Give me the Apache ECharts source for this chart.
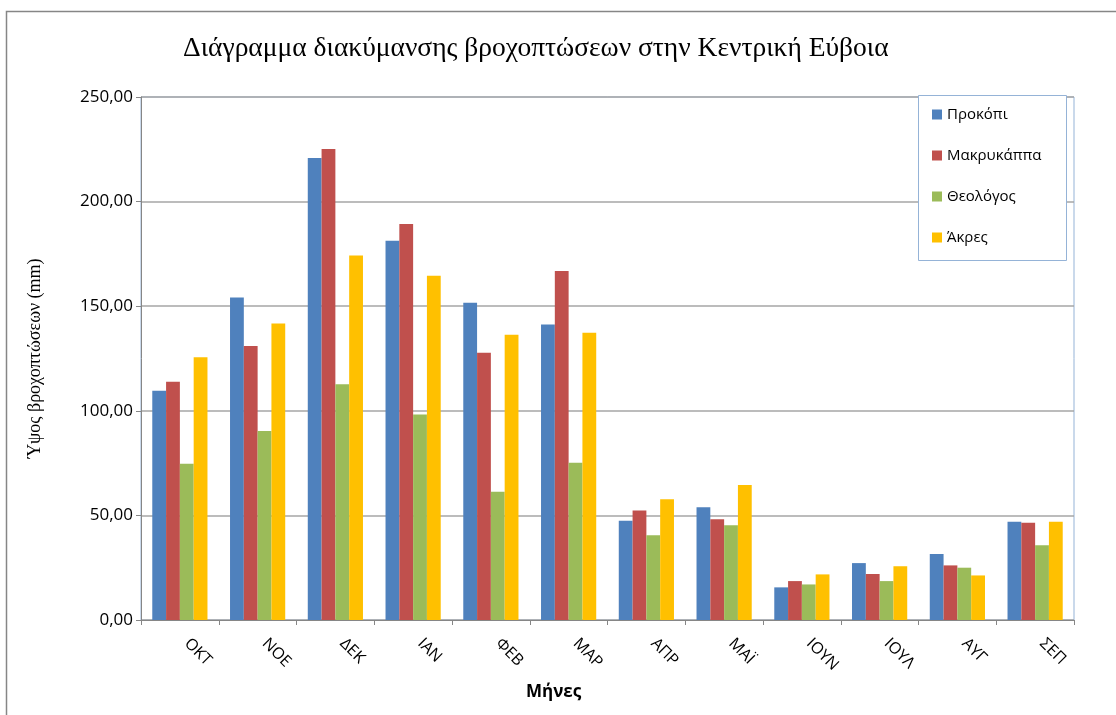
<!DOCTYPE html>
<html lang="el">
<head>
    <meta charset="UTF-8">
    <title>Βροχοπτώσεις Κεντρική Εύβοια</title>
    <script type="text/javascript" src="https://cdn.jsdelivr.net/npm/echarts@6/dist/echarts.min.js"></script>
    <style>
        html, body { margin: 0; padding: 0; background: #ffffff; }
    </style>
</head>
<body>
<div id="main" style="width: 1116px;height:715px;"></div>

<script type="text/javascript">
    // μήνες (υδρολογικό έτος)
    var months = ['ΟΚΤ', 'ΝΟΕ', 'ΔΕΚ', 'ΙΑΝ', 'ΦΕΒ', 'ΜΑΡ', 'ΑΠΡ', 'ΜΑΪ', 'ΙΟΥΝ', 'ΙΟΥΛ', 'ΑΥΓ', 'ΣΕΠ'];
    var stations = ['Προκόπι', 'Μακρυκάππα', 'Θεολόγος', 'Άκρες'];
    var prokopi     = [109.6, 154.1, 220.8, 181.3, 151.7, 141.2, 47.5, 53.9, 15.6, 27.2, 31.5, 47.0];
    var makrykappa  = [113.9, 131.0, 225.1, 189.3, 127.8, 166.8, 52.3, 48.1, 18.6, 22.0, 26.1, 46.5];
    var theologos   = [74.7, 90.3, 112.7, 98.2, 61.3, 75.2, 40.5, 45.3, 17.0, 18.6, 25.0, 35.7];
    var akres       = [125.6, 141.7, 174.2, 164.6, 136.4, 137.3, 57.7, 64.5, 21.8, 25.7, 21.3, 47.0];
    var colors = ['#4f81bd', '#c0504d', '#9bbb59', '#ffc000'];

    var myChart = echarts.init(document.getElementById('main'));

    var seriesData = [prokopi, makrykappa, theologos, akres];
    var series = [];
    for (var i = 0; i < stations.length; i++) {
        series.push({
            name: stations[i],
            type: 'bar',
            data: seriesData[i],
            barGap: '0%',
            barCategoryGap: '29%',
            itemStyle: { color: colors[i] }
        });
    }

    var option = {
        animation: false,
        color: colors,
        title: {
            text: 'Διάγραμμα διακύμανσης βροχοπτώσεων στην Κεντρική Εύβοια',
            left: 178,
            top: 30,
            textStyle: {
                fontFamily: 'Liberation Serif',
                fontWeight: 'normal',
                fontSize: 27.5,
                color: '#000'
            }
        },
        legend: {
            orient: 'vertical',
            left: 918,
            top: 95,
            z: 10,
            padding: [12, 14, 15, 14],
            itemGap: 26,
            itemWidth: 10,
            itemHeight: 10,
            icon: 'rect',
            textStyle: { fontFamily: 'Open Sans', fontSize: 15, color: '#000' },
            data: stations
        },
        grid: {
            left: 141,
            right: 42,
            top: 97,
            bottom: 95,
            show: true,
            borderColor: '#95b3d7',
            borderWidth: 1,
            containLabel: false
        },
        xAxis: {
            type: 'category',
            data: months,
            axisLine: { lineStyle: { color: '#868686' } },
            axisTick: { show: true, alignWithLabel: false, length: 5, lineStyle: { color: '#868686' } },
            axisLabel: {
                rotate: -45,
                margin: 14,
                padding: [0, 0, 0, 10],
                fontFamily: 'Open Sans',
                fontSize: 16,
                color: '#000'
            }
        },
        yAxis: {
            type: 'value',
            min: 0,
            max: 250,
            interval: 50,
            name: 'Ύψος βροχοπτώσεων (mm)',
            nameLocation: 'middle',
            nameGap: 97,
            nameTextStyle: { fontFamily: 'Liberation Serif', fontSize: 18, color: '#000' },
            axisLine: { show: true, lineStyle: { color: '#868686' } },
            axisTick: { show: true, length: 5, lineStyle: { color: '#868686' } },
            splitLine: { lineStyle: { color: '#a6a6a6', width: 1.5 } },
            axisLabel: {
                margin: 8,
                fontFamily: 'Open Sans',
                fontSize: 17,
                color: '#000',
                formatter: function (v) { return v.toFixed(2).replace('.', ','); }
            }
        },
        graphic: [
            {
                type: 'rect',
                left: 4,
                top: 9,
                shape: { width: 1130, height: 730 },
                style: { fill: 'none', stroke: '#868686', lineWidth: 1.5 },
                silent: true
            },
            {
                // πλαίσιο υπομνήματος
                type: 'rect',
                left: 918,
                top: 95,
                z: 8,
                shape: { width: 148, height: 165 },
                style: { fill: '#ffffff', stroke: '#95b3d7', lineWidth: 1 },
                silent: true
            },
            {
                type: 'text',
                left: 526,
                top: 684,
                style: {
                    text: 'Μήνες',
                    font: 'bold 17px "Open Sans"',
                    fill: '#000'
                }
            }
        ],
        series: series
    };

    myChart.setOption(option);
</script>
</body>
</html>
